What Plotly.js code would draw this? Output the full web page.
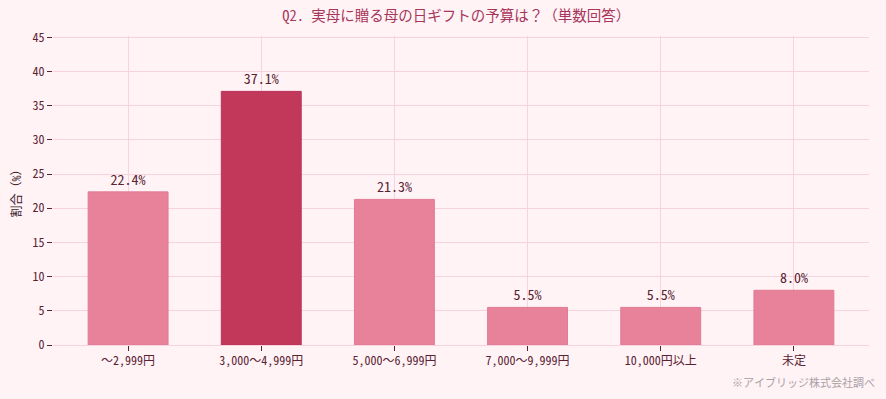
<!DOCTYPE html>
<html><head><meta charset="utf-8">
<script src="https://cdn.plot.ly/plotly-3.0.1.min.js"></script>
<style>html,body{margin:0;padding:0;background:#fff3f6;}</style>
</head><body>
<div id="chart" style="width:886px;height:399px;"></div>
<script>
const categories = ["〜2,999円", "3,000〜4,999円", "5,000〜6,999円", "7,000〜9,999円", "10,000円以上", "未定"];
const values = [22.4, 37.1, 21.3, 5.5, 5.5, 8.0];
const labels = ["22.4%", "37.1%", "21.3%", "5.5%", "5.5%", "8.0%"];
const yTicks = [0, 5, 10, 15, 20, 25, 30, 35, 40, 45];
const highlightIndex = 1;

const FONT = '"Noto Sans Mono CJK JP", "Noto Sans CJK JP", "DejaVu Sans Mono", monospace';
const barColors = values.map((v, i) => i === highlightIndex ? "#c1385a" : "#e8829a");
const lineColors = values.map((v, i) => i === highlightIndex ? "#b8345a" : "#e07a93");

const trace = {
  type: "bar",
  x: categories,
  y: values,
  text: labels,
  textposition: "outside",
  cliponaxis: false,
  textfont: {family: FONT, size: 14, color: "#5a2232"},
  width: 0.6,
  marker: {color: barColors, line: {color: lineColors, width: 1}},
  hoverinfo: "none"
};

const layout = {
  width: 886, height: 399,
  paper_bgcolor: "#fff3f6",
  plot_bgcolor: "#fff3f6",
  margin: {l: 53, r: 17, t: 36, b: 54},
  font: {family: FONT, color: "#5a2232", size: 11},
  title: {text: "Q2. 実母に贈る母の日ギフトの予算は？（単数回答）", x: 0.515, xanchor: "center", y: 0.96, yanchor: "middle",
          font: {family: FONT, size: 14.5, color: "#a8365a"}},
  showlegend: false,
  bargap: 0.4,
  xaxis: {
    range: [-0.564, 5.564],
    showgrid: true, gridcolor: "#f6d3de", gridwidth: 1,
    showline: true, linecolor: "#f6d3de", linewidth: 1,
    ticks: "outside", ticklen: 5, tickcolor: "#5a2232", tickwidth: 1,
    tickfont: {family: FONT, size: 12, color: "#5a2232"},
    zeroline: false, fixedrange: true
  },
  yaxis: {
    range: [0, 45.2],
    tickvals: yTicks,
    showgrid: true, gridcolor: "#f6d3de", gridwidth: 1,
    showline: false, zeroline: false,
    ticks: "outside", ticklen: 5, tickcolor: "#5a2232", tickwidth: 1,
    tickfont: {family: FONT, size: 12, color: "#5a2232"},
    title: {text: "割合（%）", font: {family: FONT, size: 12, color: "#3a2028"}, standoff: 8},
    fixedrange: true
  },
  annotations: [{
    text: "※アイブリッジ株式会社調べ", xref: "paper", yref: "paper",
    x: 1.01, y: -0.12, xanchor: "right", yanchor: "middle", showarrow: false,
    font: {family: FONT, size: 11, color: "#aaa0a4"}
  }]
};

Plotly.newPlot("chart", [trace], layout, {displayModeBar: false, staticPlot: true});
</script>
</body></html>
